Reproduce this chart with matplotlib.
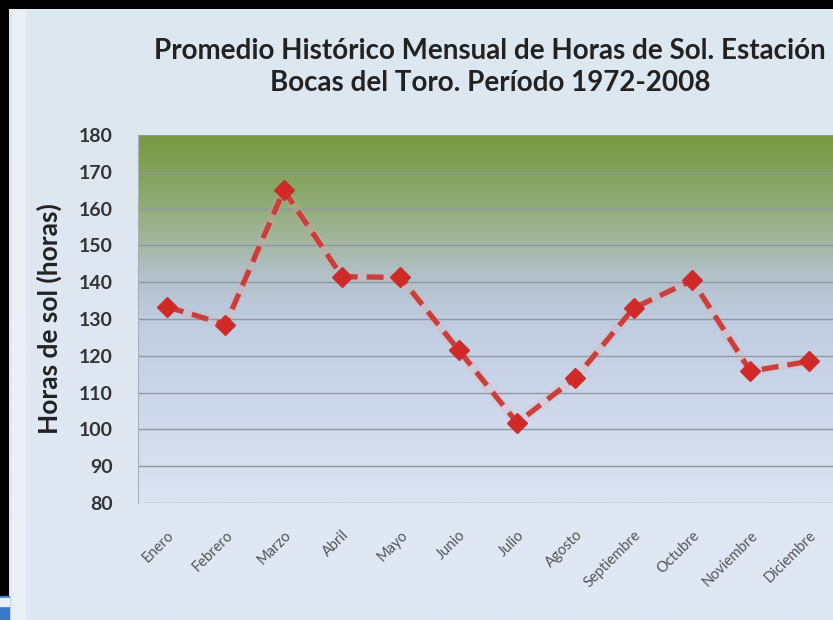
import numpy as np
import matplotlib
matplotlib.use('Agg')
import matplotlib.pyplot as plt
from matplotlib.colors import LinearSegmentedColormap
from matplotlib.patches import Rectangle

meses = ['Enero', 'Febrero', 'Marzo', 'Abril', 'Mayo', 'Junio', 'Julio',
         'Agosto', 'Septiembre', 'Octubre', 'Noviembre', 'Diciembre']
horas_sol = [133.3, 128.5, 165.0, 141.5, 141.3, 121.5, 101.8,
             114.0, 133.0, 140.5, 115.8, 118.5]
y_ticks = [80, 90, 100, 110, 120, 130, 140, 150, 160, 170, 180]

titulo = 'Promedio Histórico Mensual de Horas de Sol. Estación\nBocas del Toro. Período 1972-2008'
etiqueta_y = 'Horas de sol (horas)'

plt.rcParams['font.family'] = ['Lato', 'DejaVu Sans']

fig = plt.figure(figsize=(8.33, 6.2), dpi=100)
fig.patch.set_facecolor('black')

# chart background (light blue gradient), leaving black borders top/left
bg = fig.add_axes([9 / 833, 0, 1 - 9 / 833, 1 - 9 / 620], zorder=-5)
bg_cmap = LinearSegmentedColormap.from_list('bg', ['#e0e7f5', '#dfe7f2', '#dde8ef'])
bg.imshow(np.linspace(0, 1, 256).reshape(-1, 1), cmap=bg_cmap, aspect='auto',
          origin='lower', extent=[0, 1, 0, 1])
bg.add_patch(Rectangle((0.004, 0), 0.016, 1, color='#eef2f6', alpha=0.8))
bg.set_xlim(0, 1)
bg.set_ylim(0, 1)
bg.set_axis_off()
fig.add_artist(Rectangle((0, 0), 9 / 833, 24 / 620, transform=fig.transFigure,
                         color='#3a78c8', zorder=10))
fig.add_artist(Rectangle((0, 14 / 620), 9 / 833, 8 / 620, transform=fig.transFigure,
                         color='#e8eef6', zorder=11))

ax = fig.add_axes([138 / 833, 1 - 503 / 620, 700 / 833, 368 / 620])
x = np.arange(len(meses))
ax.set_xlim(-0.5, len(meses) - 0.5)
ax.set_ylim(80, 180)

# plot-area gradient: green at top fading to pale blue
pa_cmap = LinearSegmentedColormap.from_list(
    'pa', [(0.0, '#dce3f1'), (0.3, '#ccd6ea'), (0.5, '#bfcce0'),
           (0.62, '#b2c1ca'), (0.72, '#a2b59c'), (0.85, '#8aa76a'),
           (1.0, '#789940')])
ax.imshow(np.linspace(0, 1, 256).reshape(-1, 1), cmap=pa_cmap, aspect='auto',
          origin='lower', extent=[-0.5, len(meses) - 0.5, 80, 180], zorder=0)

ax.set_yticks(y_ticks)
ax.yaxis.grid(True, color='#8f979f', linewidth=1.0)
for gl in ax.get_ygridlines():
    gl.set_zorder(1)
for s in ax.spines.values():
    s.set_visible(False)
ax.spines['left'].set_visible(True)
ax.spines['left'].set_color('#a8b0b8')
ax.tick_params(axis='y', length=0, pad=18, labelsize=14, labelcolor='#333333')
for lab in ax.get_yticklabels():
    lab.set_fontweight('bold')

ax.plot(x, horas_sol, color='#f0a0a0', linewidth=7, alpha=0.18,
        solid_capstyle='round', zorder=2)
ax.plot(x, horas_sol, color='#c8403c', linewidth=3.8, linestyle=(0, (3.2, 1.7)),
        marker='D', markersize=10, markerfacecolor='#d02a28',
        markeredgecolor='#c83030', zorder=3)

ax.set_xticks(x)
ax.set_xticklabels(meses, rotation=45, ha='right', rotation_mode='anchor',
                   fontsize=10.5, color='#555555')
ax.tick_params(axis='x', length=0, pad=18)

ax.set_ylabel(etiqueta_y, fontsize=19, fontweight='bold', color='#222222',
              labelpad=12)

fig.text(490 / 833, 1 - 67 / 620, titulo, ha='center', va='center',
         fontsize=20, fontweight='bold', color='#222222', linespacing=1.3)

fig.savefig('out.png', dpi=100, facecolor=fig.get_facecolor())
